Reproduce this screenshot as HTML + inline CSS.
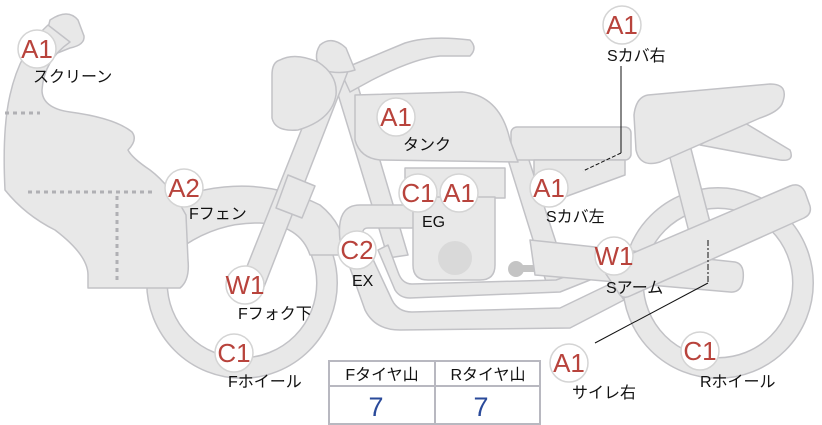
<!DOCTYPE html>
<html><head><meta charset="utf-8"><style>
html,body{margin:0;padding:0;background:#fff;width:822px;height:425px;overflow:hidden}
svg{display:block}
.p{fill:#e8e8e8;stroke:#c2c2c6;stroke-width:1.5;stroke-linejoin:round}
.b{fill:#fff;stroke:#d4d4d4;stroke-width:1.5}
.bt{font-family:"Liberation Sans",sans-serif;font-size:26px;fill:#b8433c;text-anchor:middle}
.l{font-family:"Liberation Sans","Noto Sans CJK JP",sans-serif;font-size:16px;fill:#111}
</style></head><body>
<svg width="822" height="425" viewBox="0 0 822 425" xmlns="http://www.w3.org/2000/svg">
<circle cx="718" cy="283" r="85" fill="none" stroke="#c2c2c6" stroke-width="22"/>
<circle cx="718" cy="283" r="85" fill="none" stroke="#e8e8e8" stroke-width="19"/>
<circle cx="242" cy="283" r="85" fill="none" stroke="#c2c2c6" stroke-width="22"/>
<circle cx="242" cy="283" r="85" fill="none" stroke="#e8e8e8" stroke-width="19"/>
<path class="p" d="M170 200 Q250 170 320 205 Q345 225 345 255 L310 255 Q300 225 260 223 Q220 222 185 245 Z"/>
<path class="p" d="M668 150 L690 145 L712 230 L690 236 Z"/>
<path class="p" d="M330 68 L352 66 L408 255 L388 258 Z"/>
<path class="p" d="M505 150 L525 148 L570 285 L548 288 Z"/>
<!-- exhaust pipes -->
<path class="p" d="M360 205 L418 205 L418 228 L368 228 Q360 228 364 240 L392 300 Q398 312 412 312 L560 308 L612 283 L624 300 L570 328 L400 330 Q375 330 365 310 L340 240 Q336 205 360 205 Z"/>
<path class="p" d="M378 250 L395 290 Q400 298 410 298 L560 292 L600 276 L595 266 L556 280 L412 284 Q402 284 398 272 L388 245 Z"/>
<rect class="p" x="405" y="168" width="100" height="30"/>
<path class="p" d="M413 197 L495 197 L495 265 Q495 280 480 280 L428 280 Q413 280 413 265 Z"/>
<circle cx="455" cy="258" r="17" fill="#d9d9d9"/>
<g fill="#c4c4c4"><circle cx="516" cy="269" r="8"/><circle cx="555" cy="268" r="8"/><rect x="516" y="265" width="39" height="7"/></g>
<path class="p" d="M530 240 L735 262 Q745 264 743 280 Q741 293 730 292 L535 275 Z"/>
<path class="p" d="M612 262 L790 186 Q800 182 805 192 L810 206 Q812 214 804 218 L630 296 Q622 300 618 292 L606 274 Q604 266 612 262 Z"/>
<path class="p" d="M740 120 L790 150 Q795 162 780 160 L700 145 Z"/>
<path class="p" d="M648 95 L770 84 Q790 84 782 104 Q778 112 760 118 L660 162 Q640 168 636 150 L634 115 Q636 97 648 95 Z"/>
<rect class="p" x="511" y="127" width="120" height="33" rx="6"/>
<path class="p" d="M534 160 L625 160 L625 175 L562 198 L534 198 Z"/>
<path class="p" d="M355 95 L462 92 Q500 95 510 140 L518 162 L380 160 Q360 158 355 140 Z"/>
<path class="p" d="M340 70 L405 43 Q430 35 470 40 Q478 48 470 56 L440 56 Q415 58 372 80 L350 92 Z"/>
<path class="p" d="M330 58 L350 66 L262 292 L240 284 Z"/>
<path class="p" d="M288 175 L315 186 L302 218 L276 208 Z"/>
<path class="p" d="M320 45 Q332 35 346 48 L355 70 Q340 75 322 70 Q312 58 320 45 Z"/>
<path class="p" d="M280 60 Q295 52 318 62 Q338 75 336 95 Q332 120 298 130 Q275 132 272 118 L272 75 Q272 62 280 60 Z"/>
<path class="p" d="M50 20 Q68 8 78 20 L84 36 Q85 45 70 48 L40 60 Z"/>
<path class="p" d="M48 25 Q20 50 10 95 Q2 130 5 190 Q25 215 55 230 Q88 255 88 275 L88 288 L180 288 Q190 280 188 260 L186 215 Q170 185 150 170 Q132 158 128 150 Q138 140 132 132 Q115 118 70 112 Q42 108 42 90 Q44 60 70 42 Z"/>
<g stroke="#b0b0b4" stroke-width="3" stroke-dasharray="4 4" fill="none">
<line x1="5" y1="113" x2="40" y2="113"/><line x1="28" y1="192" x2="155" y2="192"/><line x1="117" y1="196" x2="117" y2="283"/></g>
<g stroke="#111" stroke-width="1" fill="none">
<path d="M621 66 L621 153"/><path d="M621 153 L583 171" stroke-dasharray="4 2"/>
<path d="M708 240 L708 283" stroke-dasharray="6 2 2 2"/><path d="M708 283 L595 343"/></g>
<g>
<circle class="b" cx="37" cy="49" r="19"/><text class="bt" x="37" y="58">A1</text>
<circle class="b" cx="622" cy="25" r="19"/><text class="bt" x="622" y="34">A1</text>
<circle class="b" cx="396" cy="117" r="19"/><text class="bt" x="396" y="126">A1</text>
<circle class="b" cx="184" cy="188" r="19"/><text class="bt" x="184" y="197">A2</text>
<circle class="b" cx="418" cy="193" r="19"/><text class="bt" x="418" y="202">C1</text>
<circle class="b" cx="459" cy="193" r="19"/><text class="bt" x="459" y="202">A1</text>
<circle class="b" cx="549" cy="188" r="19"/><text class="bt" x="549" y="197">A1</text>
<circle class="b" cx="357" cy="250" r="19"/><text class="bt" x="357" y="259">C2</text>
<circle class="b" cx="245" cy="285" r="19"/><text class="bt" x="245" y="294">W1</text>
<circle class="b" cx="614" cy="256" r="19"/><text class="bt" x="614" y="265">W1</text>
<circle class="b" cx="234" cy="353" r="19"/><text class="bt" x="234" y="362">C1</text>
<circle class="b" cx="569" cy="363" r="19"/><text class="bt" x="569" y="372">A1</text>
<circle class="b" cx="700" cy="351" r="19"/><text class="bt" x="700" y="360">C1</text>
</g>
<g class="l">
<text x="33" y="82">スクリーン</text>
<text x="607" y="61">Sカバ右</text>
<text x="403" y="150">タンク</text>
<text x="189" y="219">Fフェン</text>
<text x="422" y="227">EG</text>
<text x="546" y="222">Sカバ左</text>
<text x="352" y="286">EX</text>
<text x="238" y="319">Fフォク下</text>
<text x="606" y="293">Sアーム</text>
<text x="228" y="387">Fホイール</text>
<text x="572" y="398">サイレ右</text>
<text x="700" y="387">Rホイール</text>
</g>
<rect x="329" y="361" width="211" height="63" fill="#fff" stroke="#b8b8c0" stroke-width="2"/>
<line x1="329" y1="386" x2="540" y2="386" stroke="#b8b8c0" stroke-width="2"/>
<line x1="435" y1="361" x2="435" y2="424" stroke="#b8b8c0" stroke-width="2"/>
<text class="l" x="382" y="380" text-anchor="middle">Fタイヤ山</text>
<text class="l" x="488" y="380" text-anchor="middle">Rタイヤ山</text>
<text x="376" y="416" font-family="Liberation Sans,sans-serif" font-size="27" fill="#2a4a9a" text-anchor="middle">7</text>
<text x="481" y="416" font-family="Liberation Sans,sans-serif" font-size="27" fill="#2a4a9a" text-anchor="middle">7</text>
</svg>
</body></html>
